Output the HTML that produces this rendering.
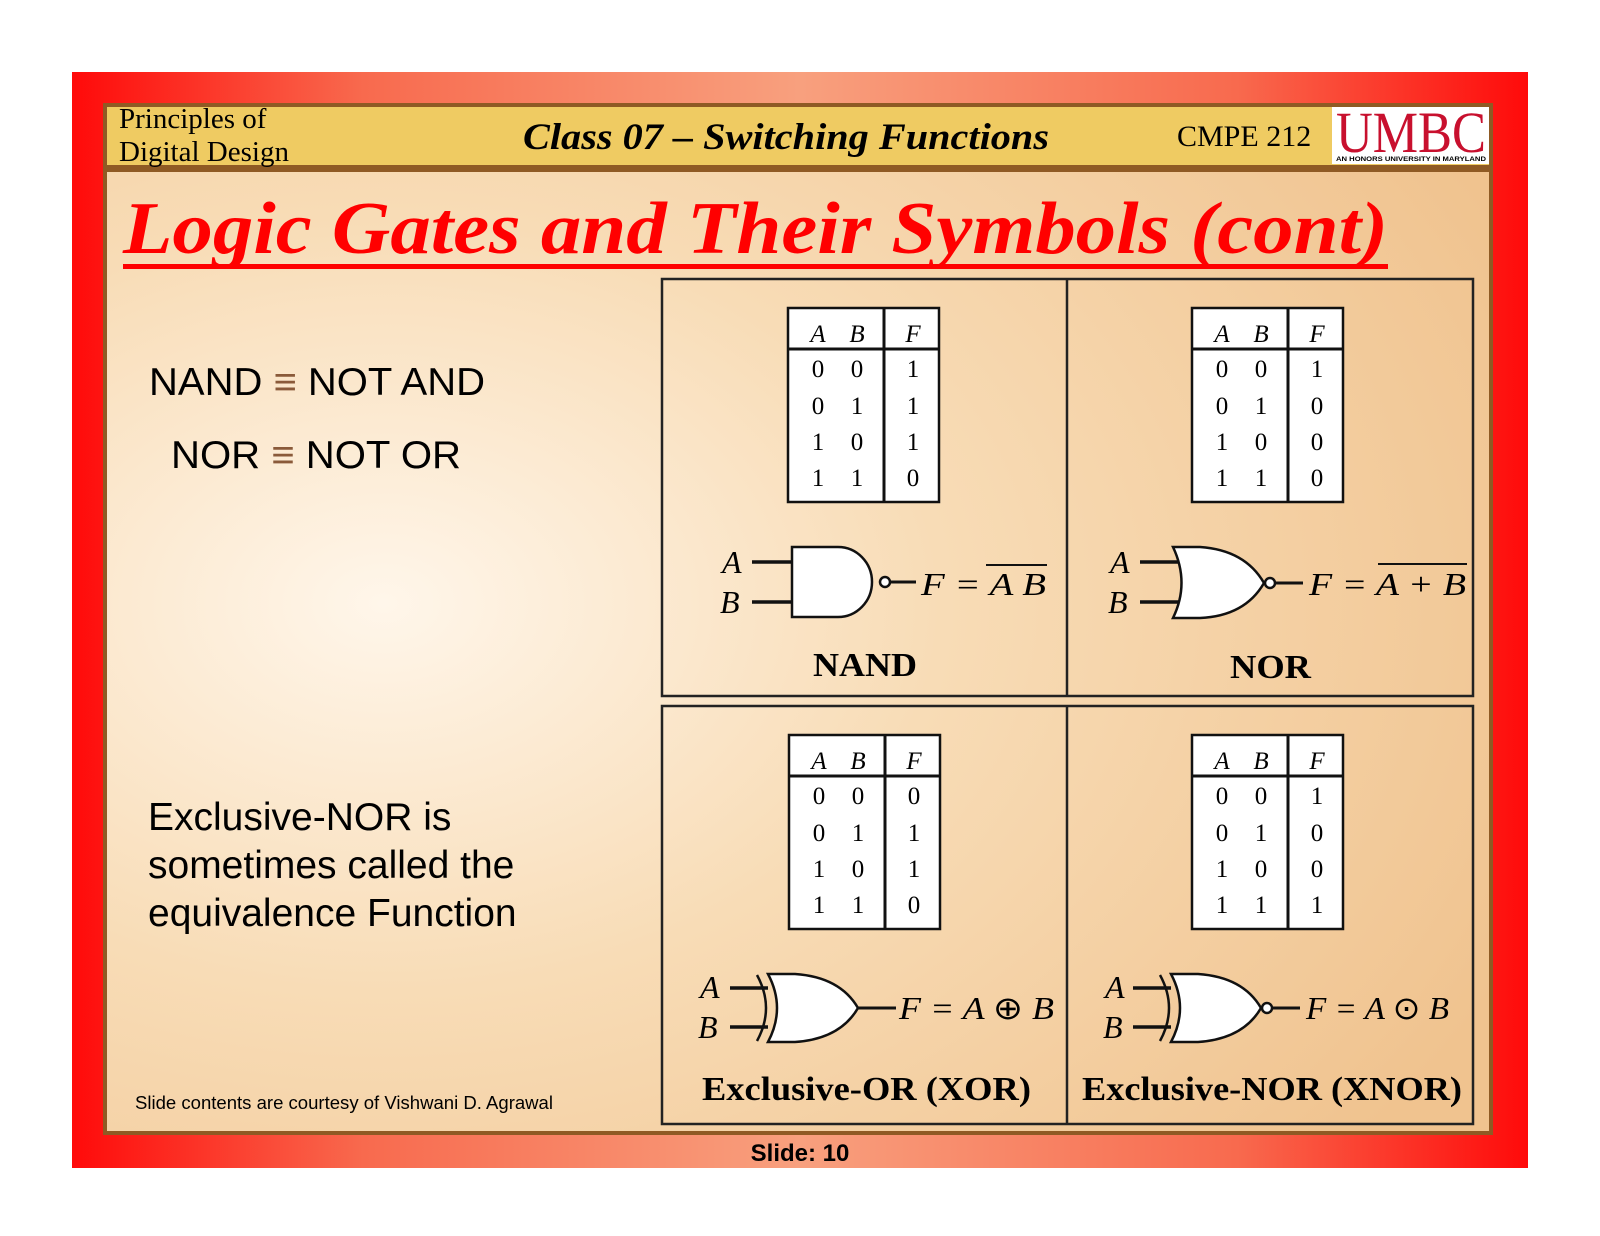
<!DOCTYPE html>
<html><head><meta charset="utf-8"><style>
body{margin:0;width:1600px;height:1236px;background:#fff;overflow:hidden}
svg{display:block}
.s{font-family:"Liberation Serif",serif}
.a{font-family:"Liberation Sans",sans-serif}
</style></head><body>
<svg width="1600" height="1236" viewBox="0 0 1600 1236" xmlns="http://www.w3.org/2000/svg">
<defs>
<linearGradient id="red" x1="0" y1="0" x2="1" y2="0">
<stop offset="0" stop-color="#ff0a0a"/><stop offset="0.2" stop-color="#f86a4e"/><stop offset="0.5" stop-color="#f8a07e"/><stop offset="0.8" stop-color="#f86a4e"/><stop offset="1" stop-color="#ff0a0a"/>
</linearGradient>
<radialGradient id="bg" cx="0.2" cy="0.45" r="0.9">
<stop offset="0" stop-color="#fff6ea"/><stop offset="0.45" stop-color="#f8dcb6"/><stop offset="1" stop-color="#f0c38f"/>
</radialGradient>
</defs>
<rect x="72" y="72" width="1456" height="1096" fill="url(#red)"/>
<rect x="103" y="103" width="1390" height="1032" fill="#8f5a24"/>
<rect x="107" y="107" width="1382" height="58" fill="#efcb62"/>
<rect x="107" y="172" width="1382" height="959" fill="url(#bg)"/>
<text class="s" x="119" y="128" font-size="29">Principles of</text>
<text class="s" x="119" y="161" font-size="29">Digital Design</text>
<text class="s" x="523" y="149" font-size="37" font-weight="bold" font-style="italic" textLength="526" lengthAdjust="spacingAndGlyphs">Class 07 – Switching Functions</text>
<text class="s" x="1177" y="146" font-size="30">CMPE 212</text>
<rect x="1332" y="107" width="157" height="57" fill="#fff"/>
<text class="s" x="1336" y="152" font-size="58" fill="#c8102e" textLength="150" lengthAdjust="spacingAndGlyphs">UMBC</text>
<text class="a" x="1336" y="161" font-size="6" font-weight="bold" textLength="150" lengthAdjust="spacingAndGlyphs">AN HONORS UNIVERSITY IN MARYLAND</text>
<text class="s" x="123" y="253" font-size="74" font-weight="bold" font-style="italic" fill="#f00" textLength="1265" lengthAdjust="spacingAndGlyphs">Logic Gates and Their Symbols (cont)</text>
<rect x="123" y="264" width="1265" height="5" fill="#f00"/>
<text class="a" x="149" y="395" font-size="39" textLength="336" lengthAdjust="spacingAndGlyphs">NAND <tspan fill="#8a5a3a">≡</tspan> NOT AND</text>
<text class="a" x="171" y="468" font-size="39" textLength="290" lengthAdjust="spacingAndGlyphs">NOR <tspan fill="#8a5a3a">≡</tspan> NOT OR</text>
<text class="a" x="148" y="830" font-size="39">Exclusive-NOR is</text>
<text class="a" x="148" y="878" font-size="39">sometimes called the</text>
<text class="a" x="148" y="926" font-size="39">equivalence Function</text>
<text class="a" x="135" y="1109" font-size="18" textLength="418" lengthAdjust="spacingAndGlyphs">Slide contents are courtesy of  Vishwani D. Agrawal</text>
<text class="a" x="800" y="1161" font-size="24" font-weight="bold" text-anchor="middle">Slide: 10</text>
<g fill="none" stroke="#222" stroke-width="2.5">
<rect x="662" y="279" width="811" height="417"/>
<rect x="662" y="706" width="811" height="418"/>
<line x1="1067" y1="279" x2="1067" y2="696"/>
<line x1="1067" y1="706" x2="1067" y2="1124"/>
</g>
<g id="t1">
<rect x="788" y="308" width="151" height="194" fill="#fff" stroke="#111" stroke-width="2.5"/>
<line x1="788" y1="349" x2="939" y2="349" stroke="#111" stroke-width="3"/>
<line x1="884" y1="308" x2="884" y2="502" stroke="#111" stroke-width="3"/>
</g>
<use href="#t1" x="404" y="0"/>
<use href="#t1" x="1" y="427"/>
<use href="#t1" x="404" y="427"/>
<g class="s" font-size="25" text-anchor="middle">
<g font-style="italic"><text x="818" y="342">A</text><text x="857" y="342">B</text><text x="913" y="342">F</text>
<text x="1222" y="342">A</text><text x="1261" y="342">B</text><text x="1317" y="342">F</text>
<text x="819" y="769">A</text><text x="858" y="769">B</text><text x="914" y="769">F</text>
<text x="1222" y="769">A</text><text x="1261" y="769">B</text><text x="1317" y="769">F</text></g>
<text x="818" y="377">0</text><text x="857" y="377">0</text><text x="913" y="377">1</text>
<text x="818" y="414">0</text><text x="857" y="414">1</text><text x="913" y="414">1</text>
<text x="818" y="450">1</text><text x="857" y="450">0</text><text x="913" y="450">1</text>
<text x="818" y="486">1</text><text x="857" y="486">1</text><text x="913" y="486">0</text>
<text x="1222" y="377">0</text><text x="1261" y="377">0</text><text x="1317" y="377">1</text>
<text x="1222" y="414">0</text><text x="1261" y="414">1</text><text x="1317" y="414">0</text>
<text x="1222" y="450">1</text><text x="1261" y="450">0</text><text x="1317" y="450">0</text>
<text x="1222" y="486">1</text><text x="1261" y="486">1</text><text x="1317" y="486">0</text>
<text x="819" y="804">0</text><text x="858" y="804">0</text><text x="914" y="804">0</text>
<text x="819" y="841">0</text><text x="858" y="841">1</text><text x="914" y="841">1</text>
<text x="819" y="877">1</text><text x="858" y="877">0</text><text x="914" y="877">1</text>
<text x="819" y="913">1</text><text x="858" y="913">1</text><text x="914" y="913">0</text>
<text x="1222" y="804">0</text><text x="1261" y="804">0</text><text x="1317" y="804">1</text>
<text x="1222" y="841">0</text><text x="1261" y="841">1</text><text x="1317" y="841">0</text>
<text x="1222" y="877">1</text><text x="1261" y="877">0</text><text x="1317" y="877">0</text>
<text x="1222" y="913">1</text><text x="1261" y="913">1</text><text x="1317" y="913">1</text>
</g>
<g stroke="#111" stroke-width="2.5" fill="#fff">
<line x1="752" y1="562" x2="792" y2="562" stroke-width="3.5"/><line x1="752" y1="602" x2="792" y2="602" stroke-width="3.5"/>
<path d="M792 547 H838 A34 35 0 0 1 838 617 H792 Z"/>
<circle cx="885" cy="582" r="5"/><line x1="890" y1="582" x2="916" y2="582" stroke-width="3"/>
<line x1="1140" y1="562" x2="1180" y2="562" stroke-width="3.5"/><line x1="1140" y1="602" x2="1180" y2="602" stroke-width="3.5"/>
<path d="M1173 547 H1200 Q1245 550 1264 583 Q1245 616 1200 618 H1173 Q1190 583 1173 547 Z"/>
<circle cx="1270" cy="583" r="5"/><line x1="1275" y1="583" x2="1303" y2="583" stroke-width="3"/>
<line x1="730" y1="988" x2="768" y2="988" stroke-width="3.5"/><line x1="730" y1="1027" x2="768" y2="1027" stroke-width="3.5"/>
<path d="M757 975 Q775 1008 757 1041" fill="none"/>
<path d="M768 974 H795 Q840 977 858 1008 Q840 1039 795 1042 H768 Q786 1008 768 974 Z"/>
<line x1="858" y1="1008" x2="896" y2="1008" stroke-width="3"/>
<line x1="1133" y1="988" x2="1171" y2="988" stroke-width="3.5"/><line x1="1133" y1="1027" x2="1171" y2="1027" stroke-width="3.5"/>
<path d="M1160 975 Q1178 1008 1160 1041" fill="none"/>
<path d="M1171 974 H1198 Q1243 977 1261 1008 Q1243 1039 1198 1042 H1171 Q1189 1008 1171 974 Z"/>
<circle cx="1267" cy="1008" r="5"/><line x1="1272" y1="1008" x2="1300" y2="1008" stroke-width="3"/>
</g>
<g class="s" font-size="32" font-style="italic">
<text x="722" y="573">A</text><text x="720" y="613">B</text>
<text x="921" y="595" textLength="125" lengthAdjust="spacingAndGlyphs">F = A B</text>
<line x1="986" y1="565" x2="1047" y2="565" stroke="#111" stroke-width="2"/>
<text x="1110" y="573">A</text><text x="1108" y="613">B</text>
<text x="1309" y="595" textLength="157" lengthAdjust="spacingAndGlyphs">F = A + B</text>
<line x1="1378" y1="564" x2="1467" y2="564" stroke="#111" stroke-width="2"/>
<text x="700" y="998">A</text><text x="698" y="1038">B</text>
<text x="899" y="1019" textLength="155" lengthAdjust="spacingAndGlyphs">F = A <tspan font-style="normal">⊕</tspan> B</text>
<text x="1105" y="998">A</text><text x="1103" y="1038">B</text>
<text x="1306" y="1019" textLength="143" lengthAdjust="spacingAndGlyphs">F = A <tspan font-style="normal">⊙</tspan> B</text>
</g>
<g class="s" font-size="34" font-weight="bold">
<text x="813" y="676" textLength="104" lengthAdjust="spacingAndGlyphs">NAND</text>
<text x="1230" y="678" textLength="81" lengthAdjust="spacingAndGlyphs">NOR</text>
<text x="702" y="1100" textLength="329" lengthAdjust="spacingAndGlyphs">Exclusive-OR (XOR)</text>
<text x="1082" y="1100" textLength="380" lengthAdjust="spacingAndGlyphs">Exclusive-NOR (XNOR)</text>
</g>
</svg>
</body></html>
